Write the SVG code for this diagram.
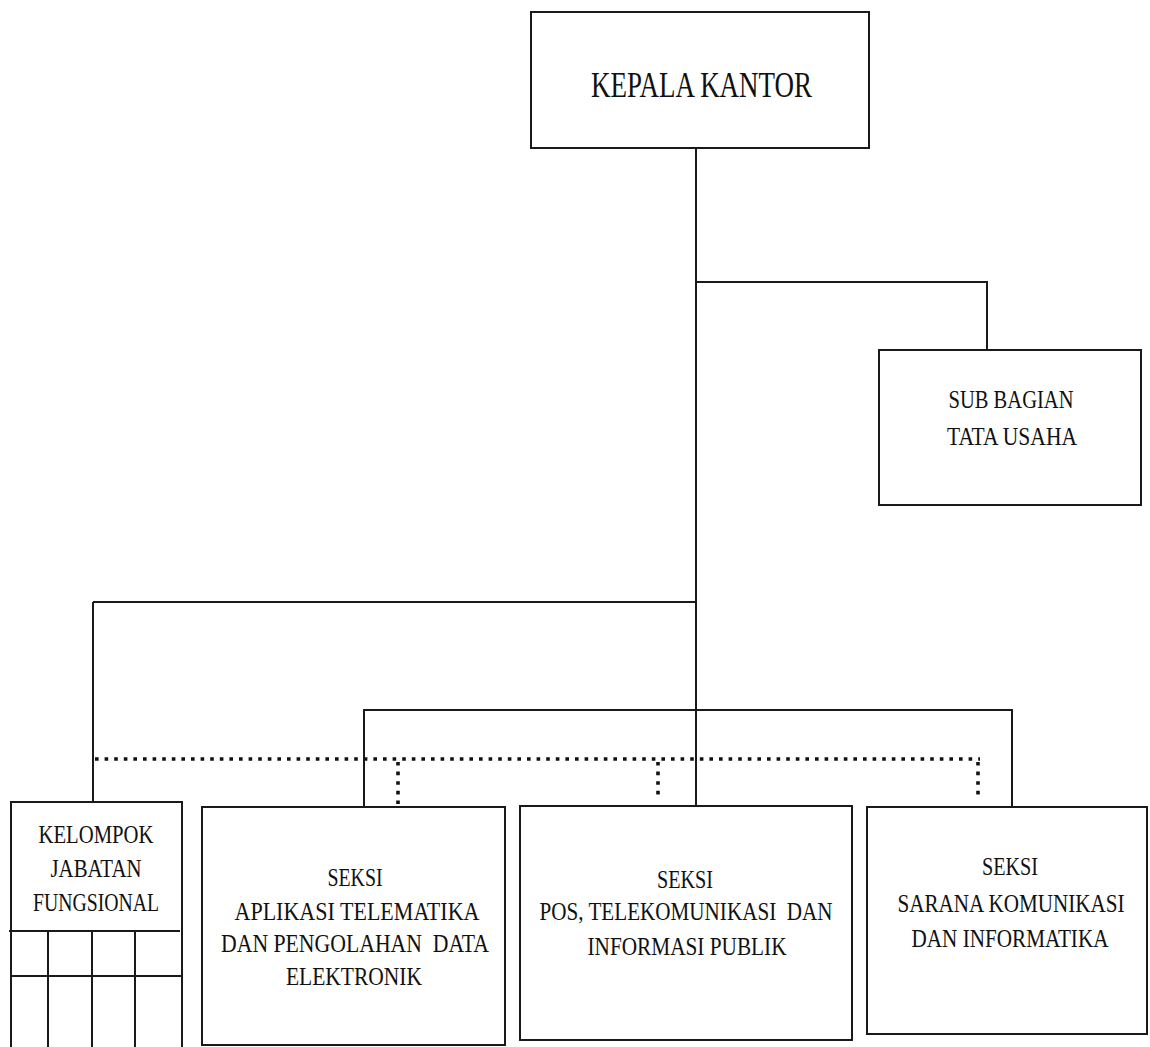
<svg xmlns="http://www.w3.org/2000/svg" width="1150" height="1047" viewBox="0 0 1150 1047">
<style>
.box{fill:#fff;stroke:#1a1a1a;stroke-width:2}
.ln{fill:none;stroke:#1a1a1a;stroke-width:2}
.dot{fill:none;stroke:#111;stroke-width:3.6;stroke-dasharray:3.6 6}
text{font-family:"Liberation Serif","Times New Roman",serif;fill:#111;text-anchor:middle;white-space:pre}
.t{font-size:25px}
</style>
<rect width="1150" height="1047" fill="#fff"/>
<g id="connectors">
<path class="ln" d="M696 148V806"/>
<path class="ln" d="M696 282H987V350"/>
<path class="ln" d="M93 602H696"/>
<path class="ln" d="M93 602V802"/>
<path class="ln" d="M364 807V710H1012V807"/>
<path class="dot" d="M95 759H980"/>
<path class="dot" d="M398 762V805"/>
<path class="dot" d="M658 762V800"/>
<path class="dot" d="M978 762V798"/>
</g>
<g id="kepala-kantor">
<rect class="box" x="531" y="12" width="338" height="136"/>
<text x="701.5" y="97" font-size="36" textLength="221" lengthAdjust="spacingAndGlyphs">KEPALA KANTOR</text>
</g>
<g id="sub-bagian">
<rect class="box" x="879" y="350" width="262" height="155"/>
<text class="t" x="1011" y="408" font-size="27" textLength="125" lengthAdjust="spacingAndGlyphs">SUB BAGIAN</text>
<text class="t" x="1012" y="445" font-size="27" textLength="130" lengthAdjust="spacingAndGlyphs">TATA USAHA</text>
</g>
<g id="kelompok-jabatan">
<rect class="box" x="11" y="802" width="171" height="260"/>
<path class="ln" d="M9 931H180M11 976H182M48 931V1047M92 931V1047M135 931V1047"/>
<text class="t" x="96" y="843" font-size="26" textLength="115" lengthAdjust="spacingAndGlyphs">KELOMPOK</text>
<text class="t" x="96" y="877" font-size="26" textLength="91" lengthAdjust="spacingAndGlyphs">JABATAN</text>
<text class="t" x="96" y="911" font-size="26" textLength="126" lengthAdjust="spacingAndGlyphs">FUNGSIONAL</text>
</g>
<g id="seksi-aplikasi">
<rect class="box" x="202" y="807" width="303" height="238"/>
<text class="t" x="355" y="886" textLength="55" lengthAdjust="spacingAndGlyphs">SEKSI</text>
<text class="t" x="357" y="920" textLength="245" lengthAdjust="spacingAndGlyphs">APLIKASI TELEMATIKA</text>
<text class="t" x="355" y="952" textLength="268" lengthAdjust="spacingAndGlyphs">DAN PENGOLAHAN  DATA</text>
<text class="t" x="354" y="985" textLength="136" lengthAdjust="spacingAndGlyphs">ELEKTRONIK</text>
</g>
<g id="seksi-pos">
<rect class="box" x="520" y="806" width="332" height="234"/>
<text class="t" x="685" y="888" textLength="56" lengthAdjust="spacingAndGlyphs">SEKSI</text>
<text class="t" x="686" y="920" textLength="293" lengthAdjust="spacingAndGlyphs">POS, TELEKOMUNIKASI  DAN</text>
<text class="t" x="687" y="955" textLength="199" lengthAdjust="spacingAndGlyphs">INFORMASI PUBLIK</text>
</g>
<g id="seksi-sarana">
<rect class="box" x="867" y="807" width="280" height="227"/>
<text class="t" x="1010" y="875" textLength="56" lengthAdjust="spacingAndGlyphs">SEKSI</text>
<text class="t" x="1011" y="912" textLength="227" lengthAdjust="spacingAndGlyphs">SARANA KOMUNIKASI</text>
<text class="t" x="1010" y="947" textLength="197" lengthAdjust="spacingAndGlyphs">DAN INFORMATIKA</text>
</g>
</svg>
